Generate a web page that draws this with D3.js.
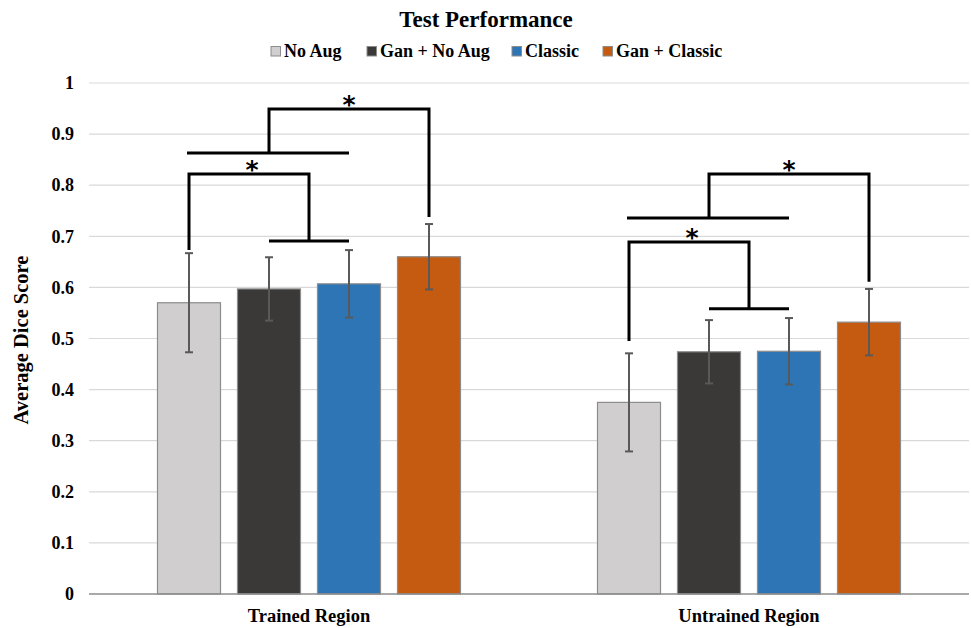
<!DOCTYPE html>
<html>
<head>
<meta charset="utf-8">
<script src="https://cdn.jsdelivr.net/npm/d3@7"></script>
<style>
html,body{margin:0;padding:0;background:#fff;}
svg{display:block;font-family:"Liberation Serif","Times New Roman",serif;font-weight:bold;}
</style>
</head>
<body>
<svg id="chart" width="971" height="628"></svg>
<script>
const categories = ["Trained Region", "Untrained Region"];
const seriesNames = ["No Aug", "Gan + No Aug", "Classic", "Gan + Classic"];
const seriesColors = ["#d0cece", "#3b3838", "#2e75b6", "#c55a11"];
const noAug = [0.570, 0.375];
const ganNoAug = [0.597, 0.474];
const classic = [0.607, 0.475];
const ganClassic = [0.660, 0.532];
const errNoAug = [0.097, 0.096];
const errGanNoAug = [0.062, 0.062];
const errClassic = [0.066, 0.065];
const errGanClassic = [0.064, 0.065];
const yTicks = [0, 0.1, 0.2, 0.3, 0.4, 0.5, 0.6, 0.7, 0.8, 0.9, 1];
const yTickLabels = ["0", "0.1", "0.2", "0.3", "0.4", "0.5", "0.6", "0.7", "0.8", "0.9", "1"];
// significance brackets (data units), per category
const innerTop = [0.822, 0.689];
const innerLegBottom = [0.673, 0.495];
const innerSub = [0.691, 0.558];
const outerLow = [0.863, 0.736];
const outerTop = [0.949, 0.822];
const outerLegBottom = [0.738, 0.611];

const values = [noAug, ganNoAug, classic, ganClassic];
const errs = [errNoAug, errGanNoAug, errClassic, errGanClassic];

const svg = d3.select("#chart");
const mLeft = 89, mRight = 969, mTop = 83, mBottom = 594;

const y = d3.scaleLinear().domain([0, 1]).range([mBottom, mTop]);
const x0 = d3.scaleBand().domain(categories).range([mLeft, mRight]).padding(0);
const groupW = 320;
const x1 = d3.scaleBand().domain(seriesNames)
  .range([(x0.bandwidth() - groupW) / 2, (x0.bandwidth() + groupW) / 2])
  .paddingInner(0.2125).paddingOuter(0.10625);

// gridlines
const grid = svg.append("g").attr("class", "grid");
grid.selectAll("line").data(yTicks.slice(1)).join("line")
  .attr("x1", mLeft).attr("x2", mRight)
  .attr("y1", d => y(d)).attr("y2", d => y(d))
  .attr("stroke", "#d9d9d9").attr("stroke-width", 1.2);

// y axis labels
const yAxis = d3.axisLeft(y).tickValues(yTicks).tickFormat((d, i) => yTickLabels[i]).tickSize(0).tickPadding(15);
const ya = svg.append("g").attr("transform", `translate(${mLeft},0)`).call(yAxis);
ya.select(".domain").remove();
ya.selectAll("text").attr("font-size", 18).attr("font-family", "Liberation Serif").attr("font-weight", "bold").attr("fill", "#000");

// bars
const data = [];
categories.forEach((c, ci) => {
  seriesNames.forEach((s, si) => {
    data.push({c, s, si, v: values[si][ci], e: errs[si][ci]});
  });
});
const cx = d => x0(d.c) + x1(d.s) + x1.bandwidth() / 2;

svg.append("g").selectAll("rect").data(data).join("rect")
  .attr("x", d => x0(d.c) + x1(d.s))
  .attr("y", d => y(d.v))
  .attr("width", x1.bandwidth())
  .attr("height", d => y(0) - y(d.v))
  .attr("fill", d => seriesColors[d.si])
  .attr("stroke", "#8c8c8c").attr("stroke-width", 1.2);

// x axis line
svg.append("line").attr("x1", mLeft).attr("x2", mRight).attr("y1", y(0)).attr("y2", y(0))
  .attr("stroke", "#8c8c8c").attr("stroke-width", 1.5);

// error bars
const eb = svg.append("g").attr("stroke", "#595959").attr("stroke-width", 2);
data.forEach(d => {
  const xc = cx(d);
  eb.append("line").attr("x1", xc).attr("x2", xc).attr("y1", y(d.v + d.e)).attr("y2", y(d.v - d.e));
  eb.append("line").attr("x1", xc - 4).attr("x2", xc + 4).attr("y1", y(d.v + d.e)).attr("y2", y(d.v + d.e));
  eb.append("line").attr("x1", xc - 4).attr("x2", xc + 4).attr("y1", y(d.v - d.e)).attr("y2", y(d.v - d.e));
});

// category labels
svg.append("g").selectAll("text").data(categories).join("text")
  .attr("x", d => x0(d) + x0.bandwidth() / 2)
  .attr("y", 622)
  .attr("text-anchor", "middle")
  .attr("font-size", 18.5)
  .text(d => d);

// brackets
const br = svg.append("g").attr("fill", "none").attr("stroke", "#000").attr("stroke-width", 3);
const stars = svg.append("g");
categories.forEach((c, ci) => {
  const bx = s => x0(c) + x1(seriesNames[s]) + x1.bandwidth() / 2;
  const b0 = bx(0), b1 = bx(1), b2 = bx(2), b3 = bx(3);
  const m12 = (b1 + b2) / 2, m02 = (b0 + b2) / 2;
  // inner bracket
  br.append("path").attr("d", d3.line()([[b0, y(innerLegBottom[ci])], [b0, y(innerTop[ci])], [m12, y(innerTop[ci])], [m12, y(innerSub[ci])]]));
  br.append("path").attr("d", d3.line()([[b1, y(innerSub[ci])], [b2, y(innerSub[ci])]]));
  stars.append("text").attr("x", (b0 + m12) / 2 + 3).attr("y", y(innerTop[ci]) + 4)
    .attr("text-anchor", "middle").attr("font-size", 25).attr("font-family", "DejaVu Sans").attr("font-weight", "bold").text("*");
  // outer bracket
  br.append("path").attr("d", d3.line()([[b0 - 2, y(outerLow[ci])], [b2, y(outerLow[ci])]]));
  br.append("path").attr("d", d3.line()([[m02, y(outerLow[ci])], [m02, y(outerTop[ci])], [b3, y(outerTop[ci])], [b3, y(outerLegBottom[ci])]]));
  stars.append("text").attr("x", (m02 + b3) / 2).attr("y", y(outerTop[ci]) + 4)
    .attr("text-anchor", "middle").attr("font-size", 25).attr("font-family", "DejaVu Sans").attr("font-weight", "bold").text("*");
});

// title
svg.append("text").attr("x", 486).attr("y", 27).attr("text-anchor", "middle")
  .attr("font-size", 23).text("Test Performance");

// y axis title
svg.append("text").attr("transform", "translate(28,340) rotate(-90)")
  .attr("text-anchor", "middle").attr("font-size", 20.5).text("Average Dice Score");

// legend
const legX = [271, 367, 512, 603];
const leg = svg.append("g");
seriesNames.forEach((s, i) => {
  leg.append("rect").attr("x", legX[i]).attr("y", 46.5).attr("width", 9.5).attr("height", 9.5)
    .attr("fill", seriesColors[i]).attr("stroke", "#8c8c8c").attr("stroke-width", 1);
  leg.append("text").attr("x", legX[i] + 13).attr("y", 57).attr("font-size", 18).text(s);
});
</script>
</body>
</html>
